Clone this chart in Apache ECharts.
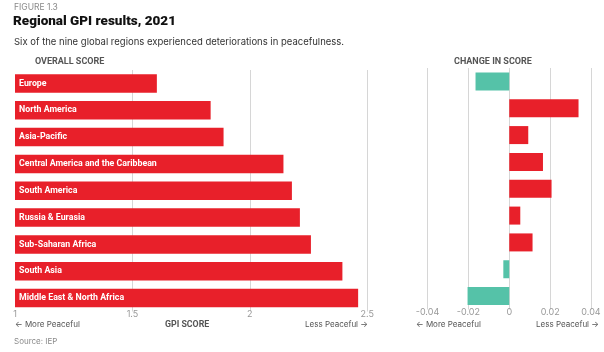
<!DOCTYPE html>
<html><head><meta charset="utf-8">
<script src="https://cdn.jsdelivr.net/npm/echarts@6/dist/echarts.min.js"></script>
<style>html,body{margin:0;padding:0;background:#fff}#c{width:604px;height:352px}</style>
</head><body><div id="c"></div>
<script>
const regions = ["Europe","North America","Asia-Pacific","Central America and the Caribbean","South America","Russia & Eurasia","Sub-Saharan Africa","South Asia","Middle East & North Africa"];
const overallScore = [1.604,1.833,1.888,2.143,2.179,2.213,2.260,2.394,2.461];
const changeScore = [-0.0165,0.0339,0.0093,0.0165,0.0207,0.0054,0.0114,-0.0029,-0.0204];
const leftTicks = [1,1.5,2,2.5];
const rightTicks = [-0.04,-0.02,0,0.02,0.04];

const RED = '#E8202A', TEAL = '#55C2A8', GRID = '#d6d6d6', LBL = '#999999';
const FF = 'Inter, Roboto, "Noto Sans", sans-serif';
const FB = 'Roboto, "Noto Sans", sans-serif';
const chart = echarts.init(document.getElementById('c'), null, {renderer:'canvas'});
chart.setOption({
  backgroundColor:'#ffffff',
  animation:false,
  grid:[
    {left:15, width:352.3, top:70, height:241.5},
    {left:427.5, width:163.5, top:68, height:241.5}
  ],
  xAxis:[
    {gridIndex:0, type:'value', min:1, max:2.5, interval:0.5,
     axisLine:{show:false}, axisTick:{show:false},
     splitLine:{show:true, showMinLine:false, lineStyle:{color:GRID,width:1}},
     axisLabel:{color:LBL, fontSize:9, fontFamily:FF, margin:-2,
       formatter:v=>leftTicks.includes(+v.toFixed(2))?String(+v.toFixed(2)):''}},
    {gridIndex:1, type:'value', min:-0.04, max:0.04, interval:0.02,
     axisLine:{show:false}, axisTick:{show:false},
     splitLine:{show:true, lineStyle:{color:GRID,width:1}},
     axisLabel:{color:LBL, fontSize:9, fontFamily:FF, margin:-2,
       formatter:v=>{const r=Math.round(v*100)/100; return rightTicks.includes(r)?String(r):'';}}}
  ],
  yAxis:[
    {gridIndex:0, type:'category', data:regions, inverse:true, show:false},
    {gridIndex:1, type:'category', data:regions, inverse:true, show:false}
  ],
  series:[
    {type:'bar', xAxisIndex:0, yAxisIndex:0, data:overallScore, barWidth:18.5,
     itemStyle:{color:RED},
     label:{show:true, position:'insideLeft', distance:4, color:'#fff', fontSize:8.8, fontWeight:'bold', fontFamily:FB,
       formatter:p=>p.name}},
    {type:'bar', xAxisIndex:1, yAxisIndex:1, barWidth:18,
     data:changeScore.map(v=>({value:v, itemStyle:{color: v<0?TEAL:RED}}))}
  ],
  graphic:[
    {type:'text', left:14, top:3, style:{text:'FIGURE 1.3', fill:'#8a8a8a', font:'8.5px '+FF}},
    {type:'text', left:13, top:15, style:{text:'Regional GPI results, 2021', fill:'#111', font:'900 13.5px '+FB}},
    {type:'text', left:14, top:37, style:{text:'Six of the nine global regions experienced deteriorations in peacefulness.', fill:'#333', font:'9.5px '+FF}},
    {type:'text', left:35, top:57, style:{text:'OVERALL SCORE', fill:'#555', font:'bold 9px '+FB}},
    {type:'text', left:454, top:57, style:{text:'CHANGE IN SCORE', fill:'#555', font:'bold 9px '+FB}},
    {type:'text', left:15, top:321, style:{text:'\u2190 More Peaceful', fill:'#555', font:'8px '+FF}},
    {type:'text', left:165, top:320, style:{text:'GPI SCORE', fill:'#555', font:'bold 8.8px '+FB}},
    {type:'text', left:305, top:321, style:{text:'Less Peaceful \u2192', fill:'#555', font:'8px '+FF}},
    {type:'text', left:416, top:321, style:{text:'\u2190 More Peaceful', fill:'#555', font:'8px '+FF}},
    {type:'text', left:536, top:321, style:{text:'Less Peaceful \u2192', fill:'#555', font:'8px '+FF}},
    {type:'text', left:14, top:338, style:{text:'Source: IEP', fill:'#8a8a8a', font:'8px '+FF}}
  ]
});
</script></body></html>
